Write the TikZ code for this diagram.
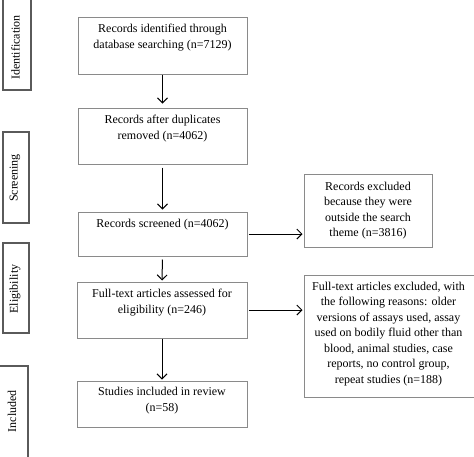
\documentclass[tikz,border=0pt]{standalone}
\usepackage{fontspec}
\setmainfont{Liberation Serif}
\usetikzlibrary{arrows.meta}
\definecolor{boxgray}{HTML}{8A8A8A}
\definecolor{sidegray}{HTML}{5A5A5A}
\begin{document}
\begin{tikzpicture}[x=1pt,y=-1pt,
  box/.style={draw=boxgray, line width=1pt, rectangle, inner sep=0},
  side/.style={draw=sidegray, line width=1.2pt, rectangle, inner sep=0},
  sidetxt/.style={rotate=90, inner sep=0, font=\fontsize{12}{14}\selectfont},
  txt/.style={align=center, inner sep=0, font=\fontsize{12}{15.5}\selectfont},
  arr/.style={draw=black, line width=1pt, -{Straight Barb[length=5pt,width=10pt]}}]
\useasboundingbox (0,0) rectangle (474,456);
% side labels
\node[side, minimum width=28, minimum height=91] (s1) at (17,44.5) {};
\node[side, minimum width=26, minimum height=91] (s2) at (16,177.5) {};
\node[side, minimum width=26, minimum height=90] (s3) at (16,288) {};
\node[side, minimum width=29, minimum height=94] (s4) at (13.5,413) {};
\node[sidetxt] (s1t) at (15.5,47.5) {Identification};
\node[sidetxt] (s2t) at (15,178) {Screening};
\node[sidetxt] (s3t) at (15,289) {Eligibility};
\node[sidetxt] (s4t) at (12,411) {Included};
% main boxes
\node[box, minimum width=169, minimum height=57] (b1) at (162.5,45.5) {};
\node[box, minimum width=169, minimum height=56] (b2) at (162.5,136) {};
\node[box, minimum width=169, minimum height=44] (b3) at (162.5,234) {};
\node[box, minimum width=170, minimum height=56] (b4) at (162,310) {};
\node[box, minimum width=170, minimum height=46] (b5) at (162,404) {};
\node[box, minimum width=128, minimum height=73] (b6) at (368,210.5) {};
\node[box, minimum width=172, minimum height=122] (b7) at (390,336) {};
% texts
\node[txt, anchor=north] (t1) at (162.5,24) {Records identified through\\database searching (n=7129)};
\node[txt, anchor=north] (t2) at (162.5,115) {Records after duplicates\\removed (n=4062)};
\node[txt, anchor=north] (t3) at (162.5,219) {Records screened (n=4062)};
\node[txt, anchor=north] (t4) at (162,289) {Full-text articles assessed for\\eligibility (n=246)};
\node[txt, anchor=north] (t5) at (162,387) {Studies included in review\\(n=58)};
\node[txt] (t6) at (368,210.5) {Records excluded\\because they were\\outside the search\\theme (n=3816)};
\node[txt] (t7) at (388.5,334) {Full-text articles excluded, with\\the following reasons: older\\versions of assays used, assay\\used on bodily fluid other than\\blood, animal studies, case\\reports, no control group,\\repeat studies (n=188)};
% arrows
\draw[arr, shorten >=4pt] (b1.south) -- (b2.north);
\draw[arr, shorten <=3pt, shorten >=2pt] (b2.south) -- (b3.north);
\draw[arr, shorten <=3pt, shorten >=1pt] (b3.south) -- (b4.north);
\draw[arr, shorten >=1pt] (b4.south) -- (b5.north);
\draw[arr, shorten <=1pt, shorten >=1pt] (b3.east) -- (b6.west |- b3.east);
\draw[arr, shorten <=1pt, shorten >=1pt] (b4.east) -- (b7.west |- b4.east);
\end{tikzpicture}
\end{document}
